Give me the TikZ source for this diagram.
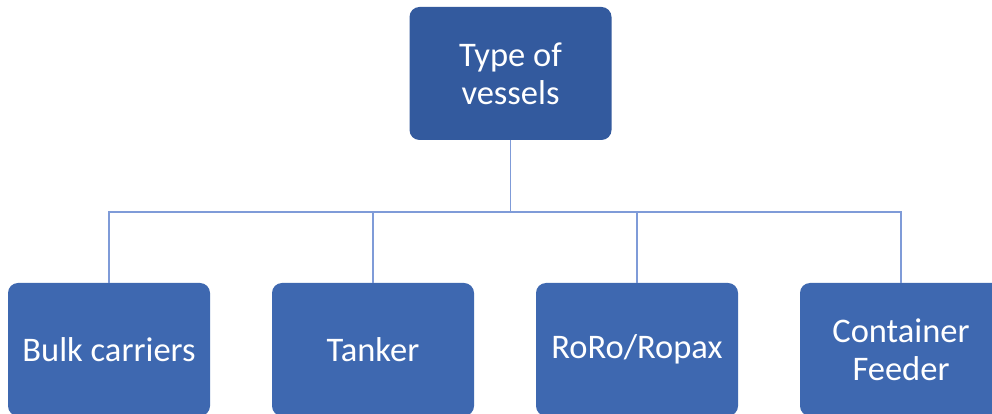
\documentclass[tikz,border=0pt]{standalone}
\usepackage{fontspec}
\setmainfont{Carlito}
\definecolor{topfill}{HTML}{335A9E}
\definecolor{leaffill}{HTML}{3E68B0}
\definecolor{linkblue}{HTML}{7F9BD8}
\begin{document}
\begin{tikzpicture}[x=1pt,y=1pt,
  box/.style={rounded corners=10pt, minimum width=202pt, minimum height=133pt,
    inner sep=0pt, text=white, align=center,
    font=\fontsize{34.5}{38}\selectfont},
  topbox/.style={box, fill=topfill},
  leafbox/.style={box, fill=leaffill},
  link/.style={draw=linkblue, line width=1.5pt}]
  \useasboundingbox (0,0) rectangle (992,414);
  \clip (0,0) rectangle (992,414);
  \fill[white] (0,0) rectangle (992,414);
  % root
  \node[topbox] (root) at (510.5,340.5) {Type of\\vessels};
  % leaves
  \node[leafbox] (bulk) at (109,64.5) {Bulk carriers};
  \node[leafbox] (tank) at (373,64.5) {Tanker};
  \node[leafbox] (roro) at (637,64.5) {RoRo/Ropax};
  \node[leafbox] (cont) at (901,64.5) {Container\\Feeder};
  % connectors through a common bus
  \coordinate (bus) at (510.5,202);
  \draw[link] (root.south) -- (bus);
  \foreach \n in {bulk,tank,roro,cont}
    \draw[link] (bus) -| (\n.north);
\end{tikzpicture}
\end{document}
